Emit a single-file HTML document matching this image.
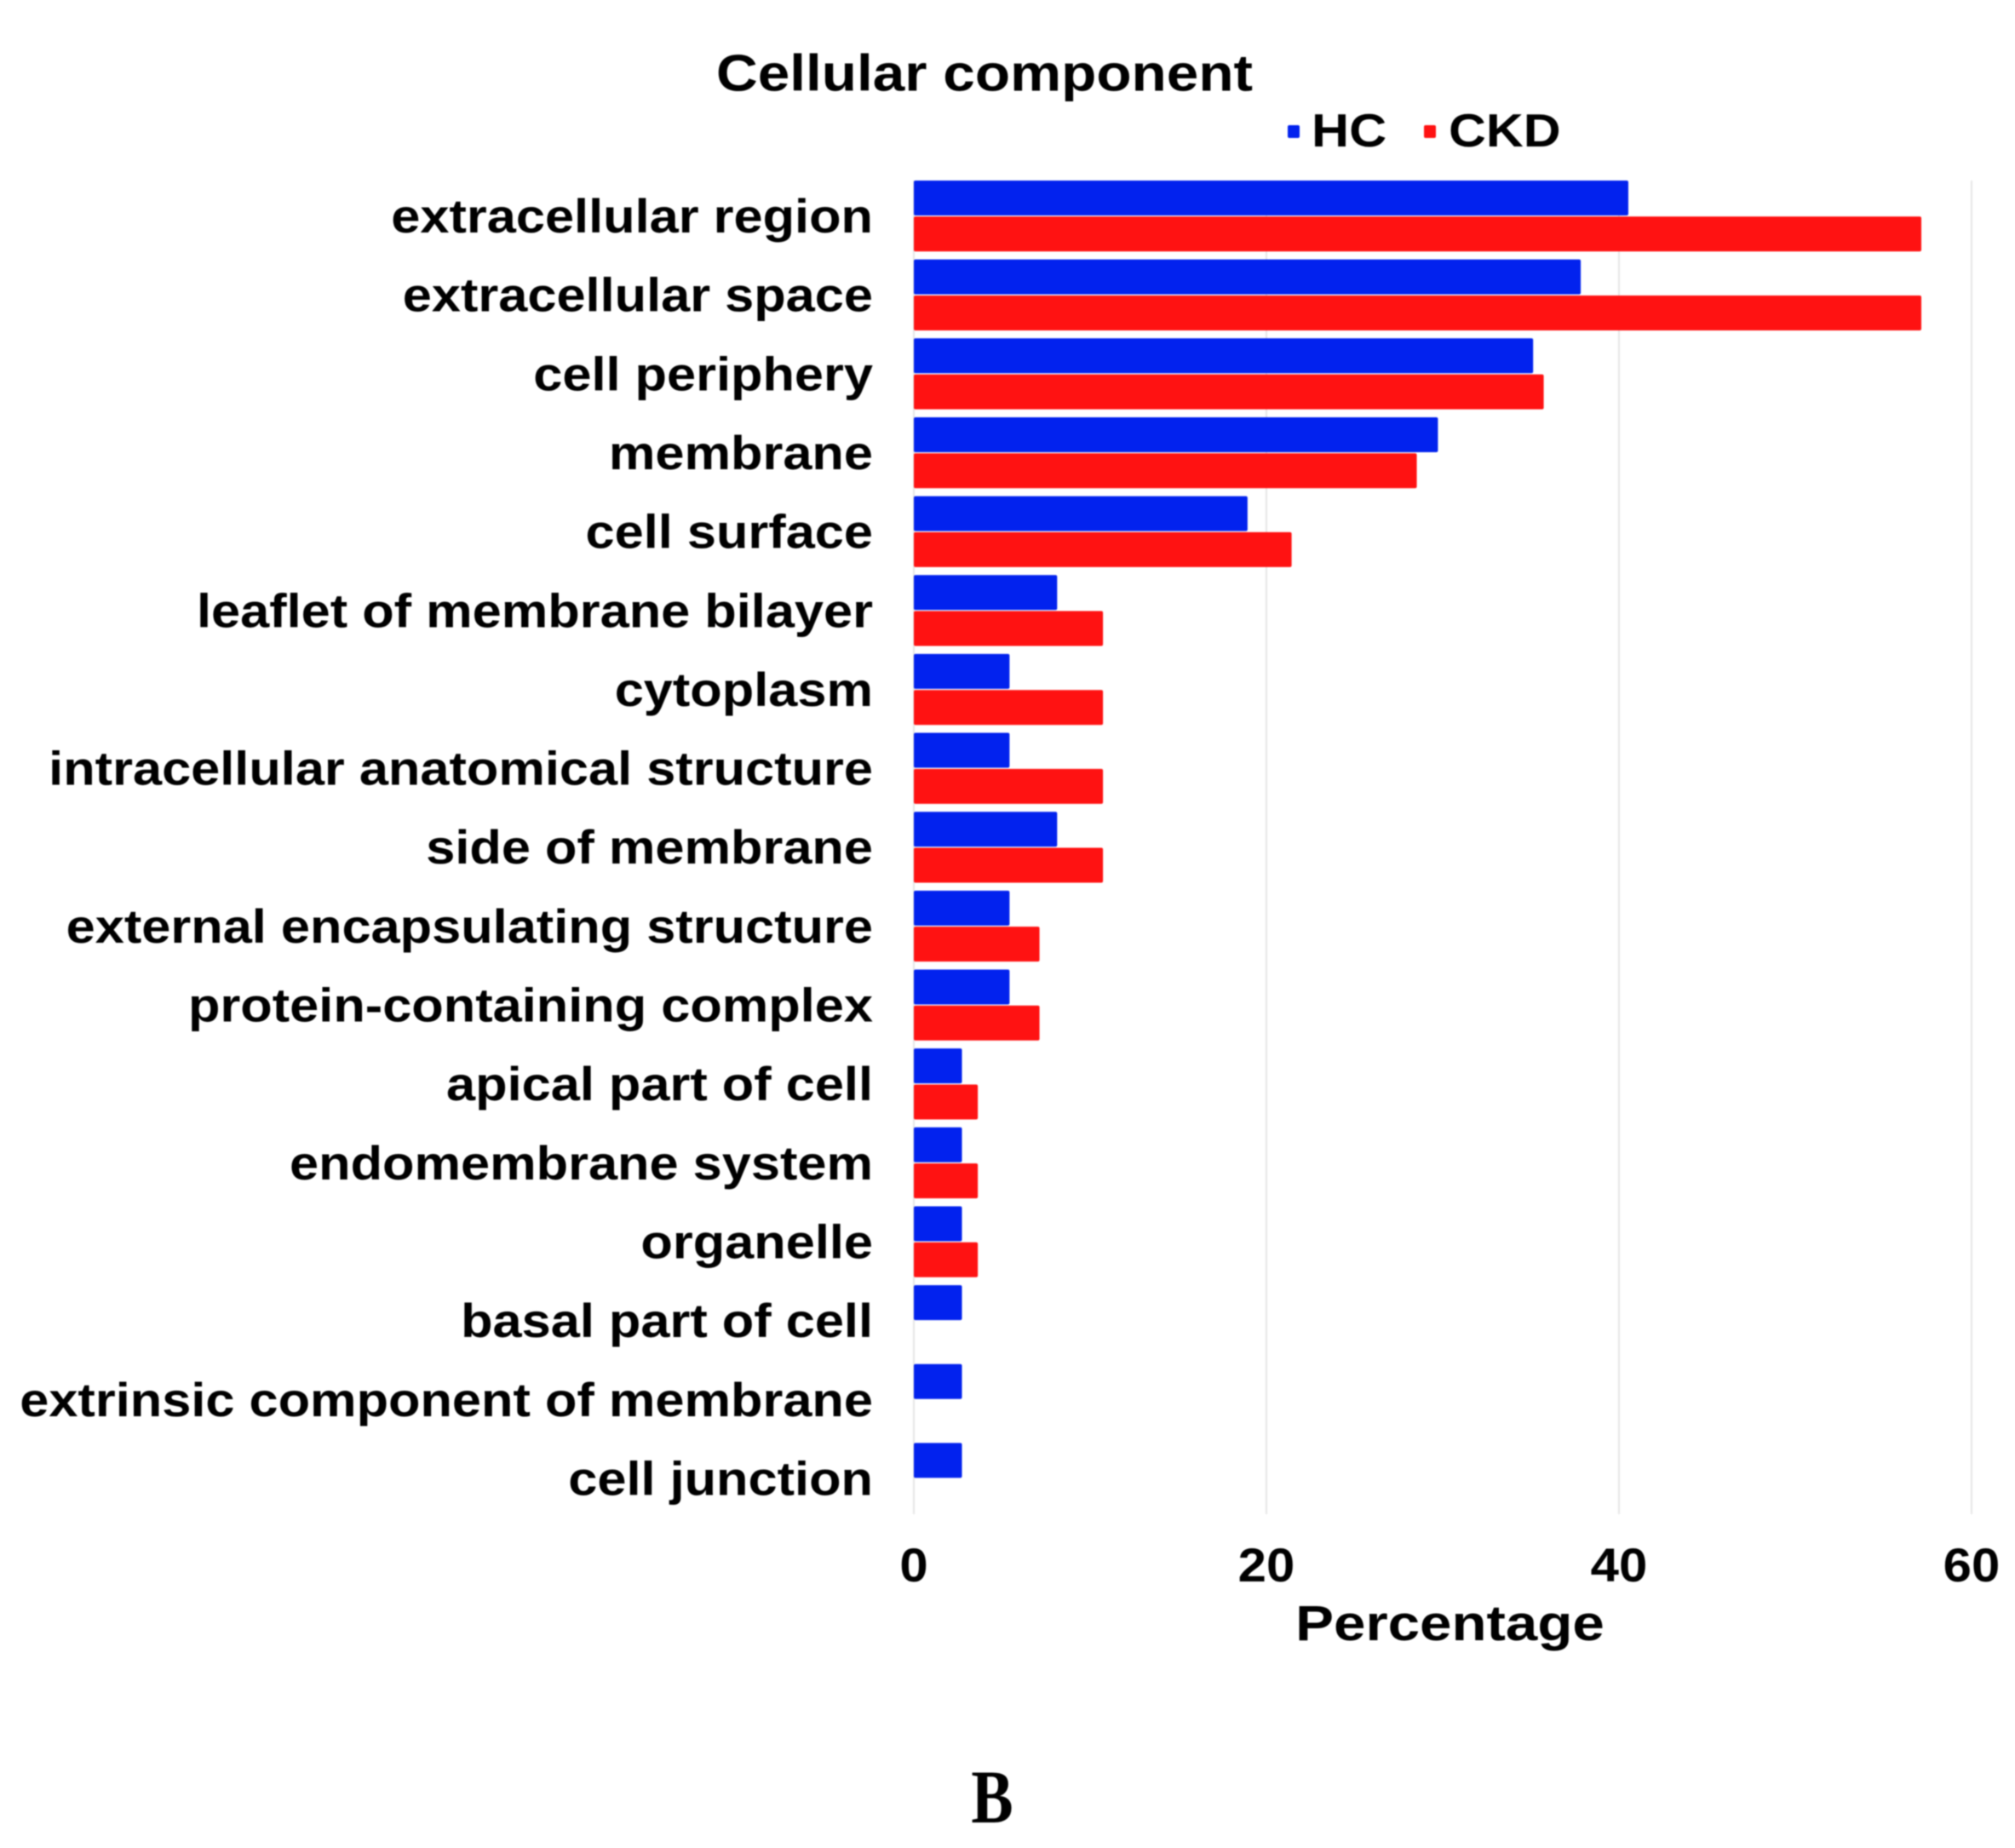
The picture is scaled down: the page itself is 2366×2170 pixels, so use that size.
<!DOCTYPE html>
<html lang="en">
<head>
<meta charset="utf-8">
<title>Cellular component</title>
<style>
html,body{margin:0;padding:0;background:#fff;}
svg{display:block;filter:blur(0.8px);}
text{font-family:"Liberation Sans",sans-serif;font-weight:bold;fill:#000;}
</style>
</head>
<body>
<svg id="chart" width="2366" height="2170" viewBox="0 0 2366 2170" xmlns="http://www.w3.org/2000/svg">
<rect x="0" y="0" width="2366" height="2170" fill="#ffffff"/>
<g id="grid"></g>
<g id="bars"></g>
<g id="cats"></g>
<g id="ticks"></g>
<text transform="translate(1156,106.5) scale(1.125,1)" text-anchor="middle" font-size="60">Cellular component</text>
<g>
<rect x="1512" y="147" width="14" height="15" rx="2" fill="#0222ee"/>
<text transform="translate(1540,172) scale(1.11,1)" font-size="55">HC</text>
<rect x="1672" y="147" width="14" height="15" rx="2" fill="#ff1212"/>
<text transform="translate(1701,172) scale(1.105,1)" font-size="55">CKD</text>
</g>
<text transform="translate(1702.5,1926) scale(1.16,1)" text-anchor="middle" font-size="58">Percentage</text>
<text transform="translate(1165,2140) scale(0.83,1)" text-anchor="middle" font-size="89" style="font-family:'Liberation Serif',serif">B</text>
</svg>
<script>
var categories = ["extracellular region","extracellular space","cell periphery","membrane","cell surface","leaflet of membrane bilayer","cytoplasm","intracellular anatomical structure","side of membrane","external encapsulating structure","protein-containing complex","apical part of cell","endomembrane system","organelle","basal part of cell","extrinsic component of membrane","cell junction"];
var hcValues = [40.53,37.83,35.13,29.73,18.93,8.13,5.43,5.43,8.13,5.43,5.43,2.73,2.73,2.73,2.73,2.73,2.73];
var ckdValues = [57.15,57.15,35.73,28.53,21.43,10.73,10.73,10.73,10.73,7.13,7.13,3.63,3.63,3.63,0,0,0];
var tickValues = [0,20,40,60];

var NS = "http://www.w3.org/2000/svg";
function xScale(v){ return 1073 + (v / 60) * 1242; }
function bandTop(i){ return 212 + i * 92.65; }

var gridG = document.getElementById("grid");
var ticksG = document.getElementById("ticks");
tickValues.forEach(function(t){
  var l = document.createElementNS(NS, "line");
  
  
  l.setAttribute("x1", xScale(t));
  l.setAttribute("x2", xScale(t));
  l.setAttribute("y1", 212);
  l.setAttribute("y2", 1778);
  l.setAttribute("stroke", "#e6e6e6");
  l.setAttribute("stroke-width", 2);
  gridG.appendChild(l);
  var s = document.createElementNS(NS, "text");
  
  
  s.setAttribute("transform", "translate(" + xScale(t) + ",1857) scale(1.07,1)");
  s.setAttribute("text-anchor", "middle");
  s.setAttribute("font-size", "56");
  s.textContent = t;
  ticksG.appendChild(s);
});

function addBar(v, y, color, name){
  if (v <= 0) return;
  var r = document.createElementNS(NS, "rect");
  
  
  r.setAttribute("x", xScale(0));
  r.setAttribute("y", y);
  r.setAttribute("width", xScale(v) - xScale(0));
  r.setAttribute("height", 41);
  r.setAttribute("rx", 2);
  r.setAttribute("fill", color);
  document.getElementById("bars").appendChild(r);
}

var catsG = document.getElementById("cats");
categories.forEach(function(c, i){
  addBar(hcValues[i], bandTop(i), "#0222ee", "bar-hc");
  addBar(ckdValues[i], bandTop(i) + 42.3, "#ff1212", "bar-ckd");
  var s = document.createElementNS(NS, "text");
  
  
  s.setAttribute("transform", "translate(1025," + (bandTop(i) + 61) + ") scale(1.095,1)");
  s.setAttribute("text-anchor", "end");
  s.setAttribute("font-size", "56");
  s.textContent = c;
  catsG.appendChild(s);
});
</script>
</body>
</html>
